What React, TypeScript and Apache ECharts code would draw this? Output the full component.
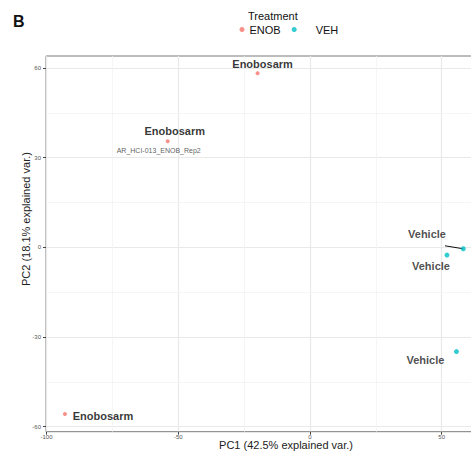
import React, { useEffect, useRef } from "react";
import * as echarts from "echarts";

// ---- data ----
const enobPC1 = [-19.9, -54.0, -93.0];
const enobPC2 = [58.2, 35.5, -55.8];
const enobNames = ["Enobosarm", "Enobosarm", "Enobosarm"];
const vehPC1 = [58.2, 52.0, 55.6];
const vehPC2 = [-0.5, -2.6, -34.9];
const vehNames = ["Vehicle", "Vehicle", "Vehicle"];
const sampleIdIndex = 1;
const sampleId = "AR_HCI-013_ENOB_Rep2";
const groups = ["ENOB", "VEH"];
const xTitle = "PC1 (42.5% explained var.)";
const yTitle = "PC2 (18.1% explained var.)";
const xTicks = [-100, -50, 0, 50];
const yTicks = [-60, -30, 0, 30, 60];
const xMinor = [-75, -25, 25, 75];
const yMinor = [-45, -15, 15, 45];

// ---- label offsets ----
const enobOffsets = [[5, -9], [7, -10], [38, 2]]; // px
const vehOffsets = [[-36.3, -14.7], [-16, 11], [-31, 8]]; // px
const idOffset = [-9, 9]; // px
const repelIndex = 0; // VEH point whose label is joined by a segment
const repelSegment = [-6.95, 1.0]; // segment reach, in axis units

const FONT = "'Liberation Sans', Arial, sans-serif";

export default function App() {
  const ref = useRef<HTMLDivElement>(null);
  useEffect(() => {
    if (!ref.current) return;
    const chart = echarts.init(ref.current, null, { renderer: "svg" });
    const px = vehPC1[repelIndex];
    const py = vehPC2[repelIndex];
    const option: any = {
      animation: false,
      textStyle: { fontFamily: FONT },
      grid: {
        left: 46, top: 56, width: 480, height: 375.7,
        outerBoundsMode: "none", containLabel: false,
        show: true, borderColor: "#7a7a7a", borderWidth: 1, backgroundColor: "#fff",
      },
      legend: {
        data: groups,
        left: 239.5, top: 24, padding: 0,
        itemWidth: 5, itemHeight: 5, itemGap: 11,
        icon: "circle",
        textStyle: { fontSize: 11, color: "#111", fontFamily: FONT, rich: { v: { padding: [0, 0, 0, 14], fontSize: 11, color: "#111", fontFamily: FONT } } },
        formatter: (n: string) => (n === "VEH" ? "{v|VEH}" : n),
      },
      xAxis: {
        type: "value", min: -100.2, max: 82, splitNumber: 4,
        axisLine: { show: false, onZero: false },
        axisTick: { show: true, length: 3, lineStyle: { color: "#444" }, customValues: xTicks },
        axisLabel: { customValues: xTicks, fontSize: 6, color: "#555", margin: 2 },
        splitLine: { show: true, lineStyle: { color: "#e9e9e9", width: 1.2 } },
      },
      yAxis: {
        type: "value", min: -61.7, max: 64, splitNumber: 4,
        axisLine: { show: false, onZero: false },
        axisTick: { show: true, length: 3, lineStyle: { color: "#444" }, customValues: yTicks },
        axisLabel: { customValues: yTicks, fontSize: 6, color: "#555", margin: 5 },
        splitLine: { show: true, lineStyle: { color: "#e9e9e9", width: 1.2 } },
      },
      graphic: [
        { type: "text", left: 13, top: 13, style: { text: "B", fontSize: 16, fontWeight: "bold", fill: "#111", fontFamily: FONT } },
        { type: "text", x: 248, y: 16, style: { text: "Treatment", fontSize: 11, fill: "#111", fontFamily: FONT, verticalAlign: "middle" } },
        { type: "text", x: 286, y: 445, style: { text: xTitle, fontSize: 11, fill: "#222", fontFamily: FONT, align: "center", verticalAlign: "middle" } },
        { type: "text", x: 26, y: 286, rotation: Math.PI / 2, style: { text: yTitle, fontSize: 11, fill: "#222", fontFamily: FONT, align: "left", verticalAlign: "middle" } },
      ],
      series: [
        {
          type: "scatter", name: "minor", data: [], z: 1, silent: true,
          markLine: {
            silent: true, symbol: "none", label: { show: false }, z: 1,
            lineStyle: { color: "#f2f2f2", width: 0.8, type: "solid" },
            data: [...xMinor.map((v) => ({ xAxis: v })), ...yMinor.map((v) => ({ yAxis: v }))],
          },
        },
        {
          type: "scatter", name: "ENOB", symbolSize: 4, z: 3,
          itemStyle: { color: "#F8766D" },
          data: enobPC1.map((x, i) => ({ value: [x, enobPC2[i]], name: enobNames[i] })),
          label: { show: true, position: "inside", formatter: "{b}", fontSize: 11, fontWeight: "bold", color: "#000", fontFamily: FONT },
          labelLayout: (p: any) => ({ dx: enobOffsets[p.dataIndex][0], dy: enobOffsets[p.dataIndex][1] }),
        },
        {
          type: "scatter", name: "ENOB-id", symbolSize: 0, z: 3, silent: true,
          data: [{ value: [enobPC1[sampleIdIndex], enobPC2[sampleIdIndex]], name: sampleId }],
          label: { show: true, position: "inside", formatter: "{b}", fontSize: 7, color: "#333", fontFamily: FONT },
          labelLayout: () => ({ dx: idOffset[0], dy: idOffset[1] }),
        },
        {
          type: "scatter", name: "VEH", symbolSize: 5, z: 3,
          itemStyle: { color: "#00BFC4" },
          data: vehPC1.map((x, i) => ({ value: [x, vehPC2[i]], name: vehNames[i] })),
          label: { show: true, position: "inside", formatter: "{b}", fontSize: 11, fontWeight: "bold", color: "#222", fontFamily: FONT },
          labelLayout: (p: any) => ({ dx: vehOffsets[p.dataIndex][0], dy: vehOffsets[p.dataIndex][1] }),
          markLine: {
            silent: true, symbol: "none", label: { show: false }, z: 2,
            lineStyle: { color: "#111", width: 1, type: "solid" },
            data: [[{ coord: [px, py] }, { coord: [px + repelSegment[0], py + repelSegment[1]] }]],
          },
        },
      ],
    };
    chart.setOption(option);
    return () => chart.dispose();
  }, []);
  return (
    <div style={{ position: "fixed", left: 0, top: 0, width: 471, height: 452, overflow: "hidden", background: "#fff" }}>
      <div ref={ref} style={{ width: 560, height: 452 }} />
    </div>
  );
}
